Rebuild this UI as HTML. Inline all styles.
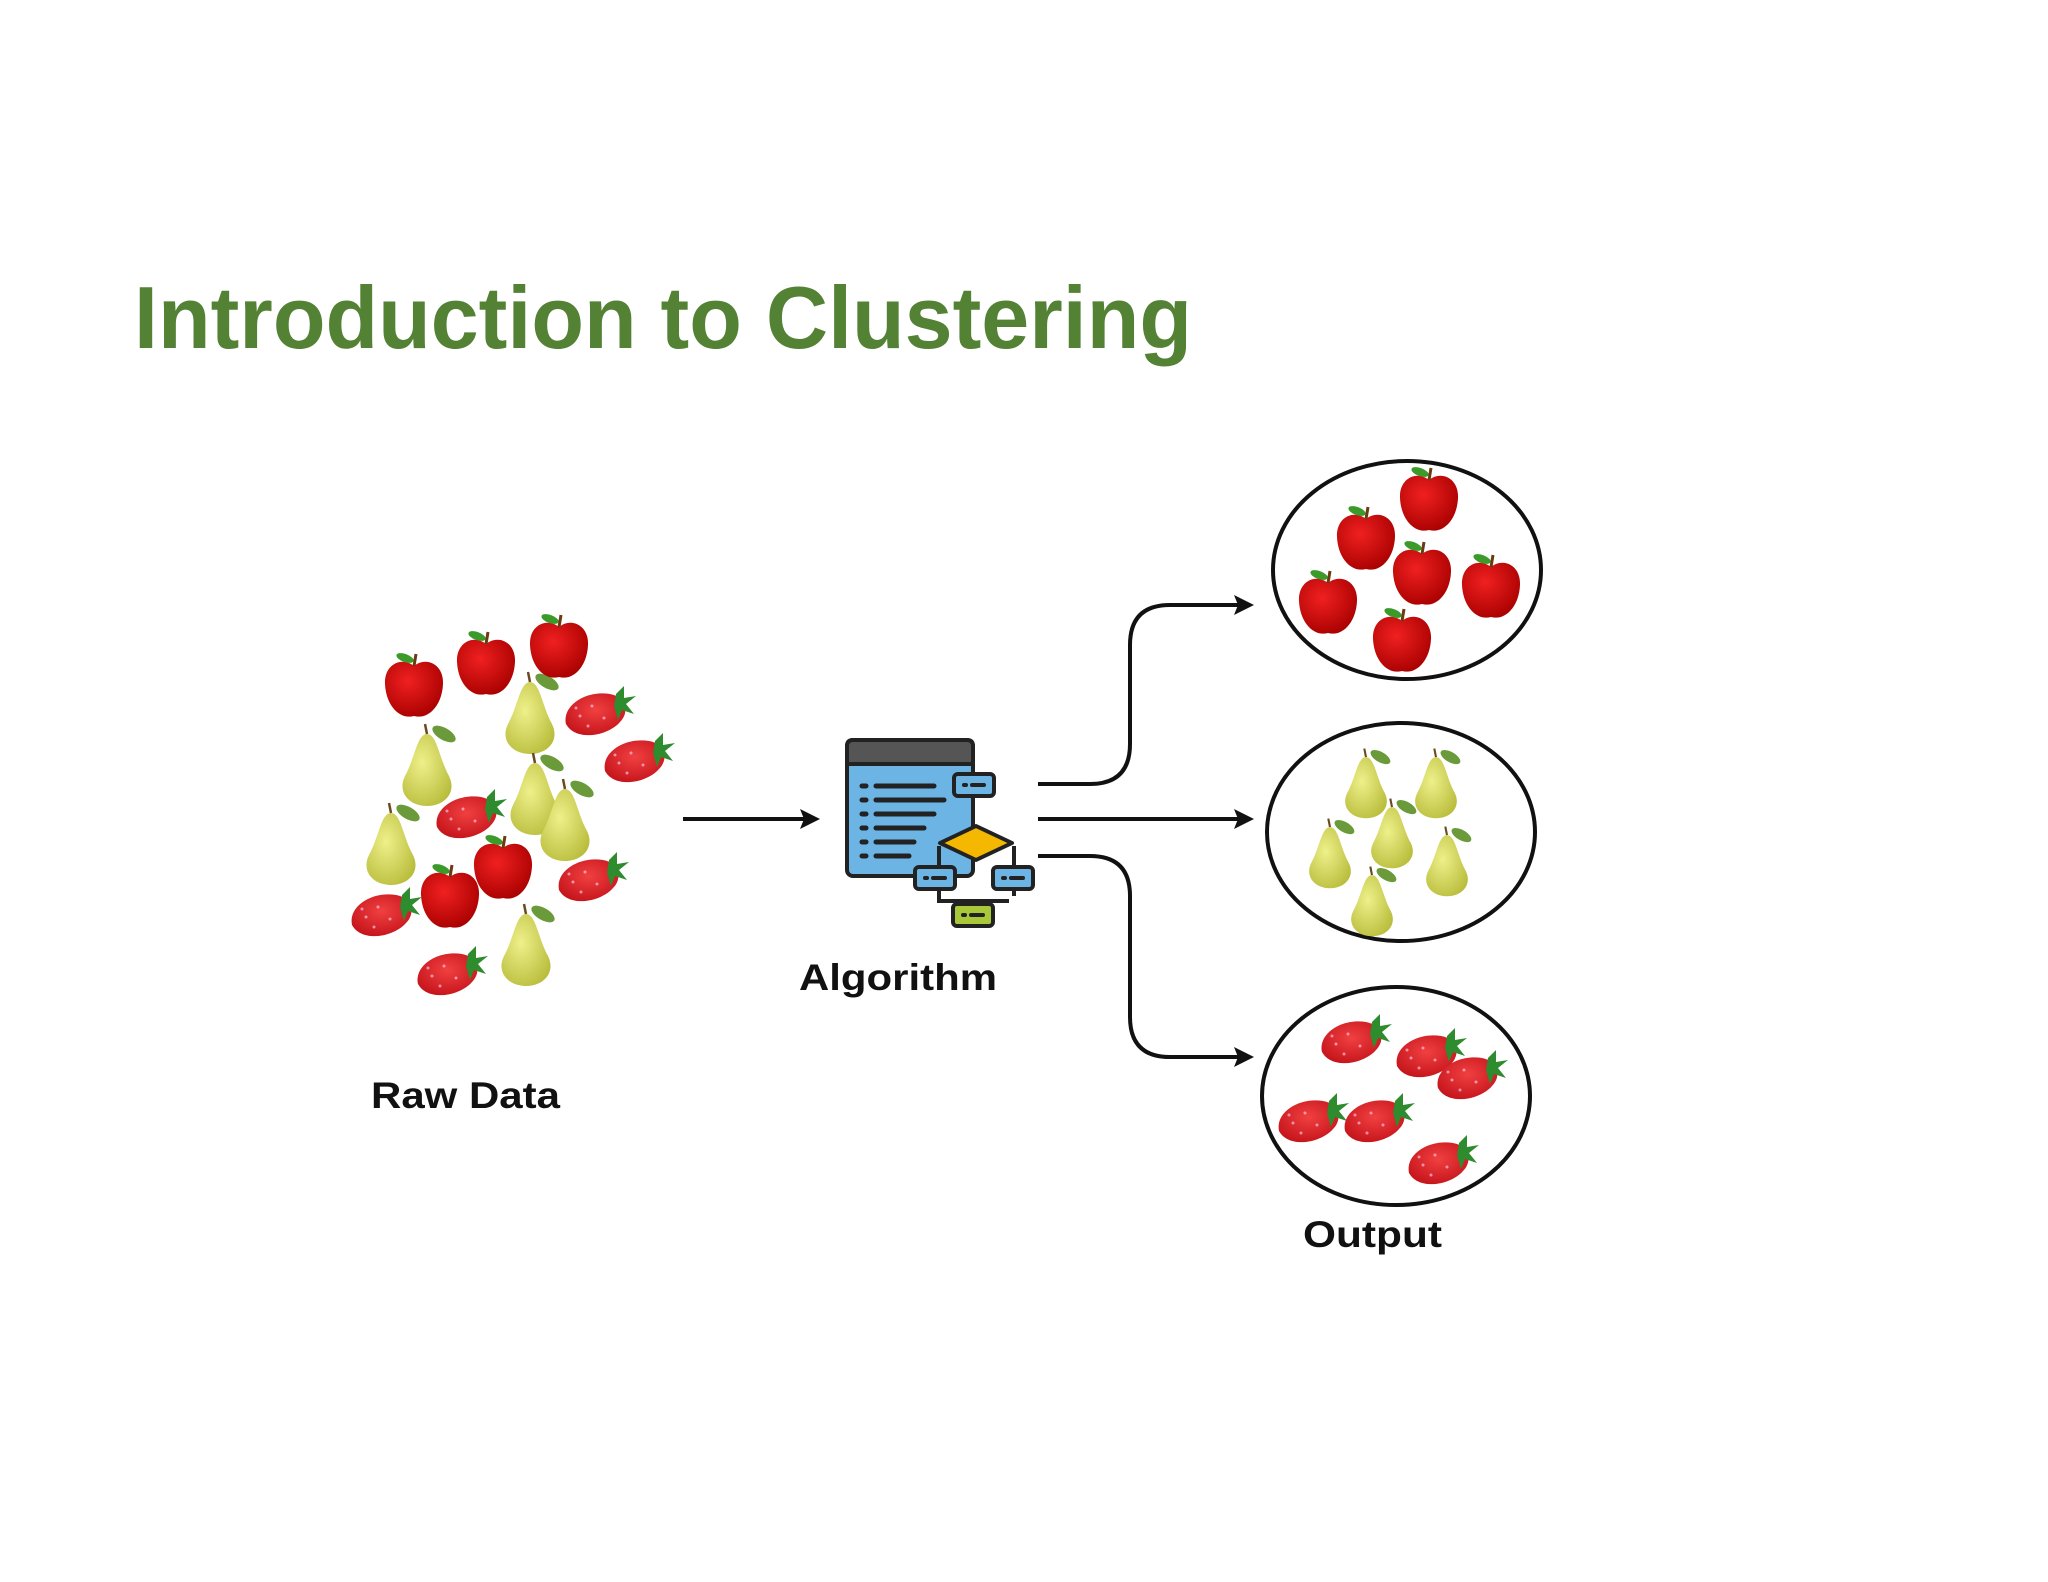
<!DOCTYPE html>
<html><head><meta charset="utf-8"><style>
html,body{margin:0;padding:0;background:#fff;}
svg{display:block;}
text{font-family:"Liberation Sans",Arial,sans-serif;font-weight:bold;}
</style></head><body>
<svg width="2048" height="1582" viewBox="0 0 2048 1582" xmlns="http://www.w3.org/2000/svg">
<defs>
<radialGradient id="ag" cx="0.4" cy="0.35" r="0.7"><stop offset="0" stop-color="#f02020"/><stop offset="1" stop-color="#a80000"/></radialGradient>
<radialGradient id="pg" cx="0.4" cy="0.4" r="0.7"><stop offset="0" stop-color="#eef08a"/><stop offset="1" stop-color="#b8bc3a"/></radialGradient>
<radialGradient id="sg" cx="0.5" cy="0.4" r="0.7"><stop offset="0" stop-color="#f04040"/><stop offset="1" stop-color="#c01018"/></radialGradient>
<g id="apple">
<path d="M0,-22 C12,-32 30,-24 29,-4 C28,18 14,32 0,28 C-14,32 -28,18 -29,-4 C-30,-24 -12,-32 0,-22Z" fill="url(#ag)"/>
<line x1="0" y1="-22" x2="2" y2="-34" stroke="#6b3a10" stroke-width="3"/>
<ellipse cx="-9" cy="-30" rx="9" ry="4" transform="rotate(20 -9 -30)" fill="#3a9a2a"/>
</g>
<g id="pear">
<path d="M0,-34 C10,-34 12,-10 22,8 C30,24 18,38 0,38 C-18,38 -30,24 -22,8 C-12,-10 -10,-34 0,-34Z" fill="url(#pg)"/>
<line x1="0" y1="-34" x2="-2" y2="-44" stroke="#6b4a20" stroke-width="2.5"/>
<ellipse cx="17" cy="-34" rx="13" ry="6" transform="rotate(30 17 -34)" fill="#6a9a3a"/>
</g>
<g id="straw">
<path d="M-32,10 C-36,-10 -10,-24 12,-20 C28,-17 32,-2 22,8 C10,22 -22,28 -32,10Z" fill="url(#sg)"/>
<g fill="#fbd" opacity="0.7"><circle cx="-18" cy="2" r="1.5"/><circle cx="-6" cy="-8" r="1.5"/><circle cx="6" cy="4" r="1.5"/><circle cx="-10" cy="12" r="1.5"/><circle cx="-22" cy="-6" r="1.5"/></g>
<path d="M18,-20 L26,-28 L26,-16 L38,-18 L28,-10 L36,0 L24,-4 L20,6 L16,-8Z" fill="#2e8b2e"/>
</g>
</defs>

<text x="134" y="348" font-size="88" fill="#548235" textLength="1058" lengthAdjust="spacingAndGlyphs">Introduction to Clustering</text>

<g transform="translate(-6,-4)">
<use href="#pear" x="536" y="720"/>
<use href="#pear" x="433" y="772"/>
<use href="#pear" x="541" y="801"/>
<use href="#pear" x="571" y="827"/>
<use href="#pear" x="397" y="851"/>
<use href="#pear" x="532" y="952"/>
<use href="#apple" x="420" y="692"/>
<use href="#apple" x="492" y="670"/>
<use href="#apple" x="565" y="653"/>
<use href="#apple" x="456" y="903"/>
<use href="#apple" x="509" y="874"/>
<use href="#straw" x="604" y="718"/>
<use href="#straw" x="643" y="765"/>
<use href="#straw" x="475" y="821"/>
<use href="#straw" x="597" y="884"/>
<use href="#straw" x="390" y="919"/>
<use href="#straw" x="456" y="978"/>

<text x="377" y="1112" font-size="37" fill="#111" textLength="189" lengthAdjust="spacingAndGlyphs">Raw Data</text>

<line x1="689" y1="823" x2="810" y2="823" stroke="#111" stroke-width="4"/>
<path d="M826,823 L806,813 L810,823 L806,833Z" fill="#111"/>

<g stroke="#222" stroke-width="4" stroke-linejoin="round">
<rect x="853" y="744" width="126" height="136" rx="6" fill="#6cb4e4"/>
<path d="M853,768 L853,750 Q853,744 859,744 L973,744 Q979,744 979,750 L979,768Z" fill="#555"/>
</g>
<g stroke="#222" stroke-width="5" stroke-linecap="round">
<line x1="868" y1="790" x2="872" y2="790"/><line x1="882" y1="790" x2="940" y2="790"/>
<line x1="868" y1="804" x2="872" y2="804"/><line x1="882" y1="804" x2="950" y2="804"/>
<line x1="868" y1="818" x2="872" y2="818"/><line x1="882" y1="818" x2="940" y2="818"/>
<line x1="868" y1="832" x2="872" y2="832"/><line x1="882" y1="832" x2="930" y2="832"/>
<line x1="868" y1="846" x2="872" y2="846"/><line x1="882" y1="846" x2="920" y2="846"/>
<line x1="868" y1="860" x2="872" y2="860"/><line x1="882" y1="860" x2="915" y2="860"/>
</g>
<g stroke="#222" stroke-width="4" fill="none">
<path d="M945,850 L945,905 L1015,905"/>
<path d="M1020,850 L1020,900"/>
</g>
<path d="M982,830 L1018,847 L982,864 L946,847Z" fill="#f5b800" stroke="#222" stroke-width="4" stroke-linejoin="round"/>
<rect x="960" y="778" width="40" height="22" rx="4" fill="#6cb4e4" stroke="#222" stroke-width="4"/>
<rect x="921" y="871" width="40" height="22" rx="4" fill="#6cb4e4" stroke="#222" stroke-width="4"/>
<rect x="999" y="871" width="40" height="22" rx="4" fill="#6cb4e4" stroke="#222" stroke-width="4"/>
<rect x="959" y="908" width="40" height="22" rx="4" fill="#a8c83a" stroke="#222" stroke-width="4"/>
<g stroke="#222" stroke-width="4" stroke-linecap="round">
<line x1="970" y1="789" x2="972" y2="789"/><line x1="978" y1="789" x2="990" y2="789"/>
<line x1="931" y1="882" x2="933" y2="882"/><line x1="939" y1="882" x2="951" y2="882"/>
<line x1="1009" y1="882" x2="1011" y2="882"/><line x1="1017" y1="882" x2="1029" y2="882"/>
<line x1="969" y1="919" x2="971" y2="919"/><line x1="977" y1="919" x2="989" y2="919"/>
</g>

<text x="805" y="994" font-size="37" fill="#111" textLength="198" lengthAdjust="spacingAndGlyphs">Algorithm</text>

<g stroke="#111" stroke-width="4" fill="none">
<path d="M1044,788 L1096,788 Q1136,788 1136,748 L1136,649 Q1136,609 1176,609 L1244,609"/>
<path d="M1044,823 L1244,823"/>
<path d="M1044,860 L1096,860 Q1136,860 1136,900 L1136,1021 Q1136,1061 1176,1061 L1244,1061"/>
</g>
<path d="M1260,609 L1240,599 L1244,609 L1240,619Z" fill="#111"/>
<path d="M1260,823 L1240,813 L1244,823 L1240,833Z" fill="#111"/>
<path d="M1260,1061 L1240,1051 L1244,1061 L1240,1071Z" fill="#111"/>

<ellipse cx="1413" cy="574" rx="134" ry="109" fill="#fff" stroke="#111" stroke-width="4"/>
<ellipse cx="1407" cy="836" rx="134" ry="109" fill="#fff" stroke="#111" stroke-width="4"/>
<ellipse cx="1402" cy="1100" rx="134" ry="109" fill="#fff" stroke="#111" stroke-width="4"/>

<use href="#apple" x="1435" y="506"/>
<use href="#apple" x="1372" y="545"/>
<use href="#apple" x="1428" y="580"/>
<use href="#apple" x="1497" y="593"/>
<use href="#apple" x="1334" y="609"/>
<use href="#apple" x="1408" y="647"/>

<g transform="translate(1372,790) scale(0.85)"><use href="#pear"/></g>
<g transform="translate(1442,790) scale(0.85)"><use href="#pear"/></g>
<g transform="translate(1398,840) scale(0.85)"><use href="#pear"/></g>
<g transform="translate(1336,860) scale(0.85)"><use href="#pear"/></g>
<g transform="translate(1453,868) scale(0.85)"><use href="#pear"/></g>
<g transform="translate(1378,908) scale(0.85)"><use href="#pear"/></g>

<use href="#straw" x="1360" y="1046"/>
<use href="#straw" x="1435" y="1060"/>
<use href="#straw" x="1476" y="1082"/>
<use href="#straw" x="1317" y="1125"/>
<use href="#straw" x="1383" y="1125"/>
<use href="#straw" x="1447" y="1167"/>

<text x="1309" y="1251" font-size="37" fill="#111" textLength="139" lengthAdjust="spacingAndGlyphs">Output</text>
</g>
</svg>
</body></html>
